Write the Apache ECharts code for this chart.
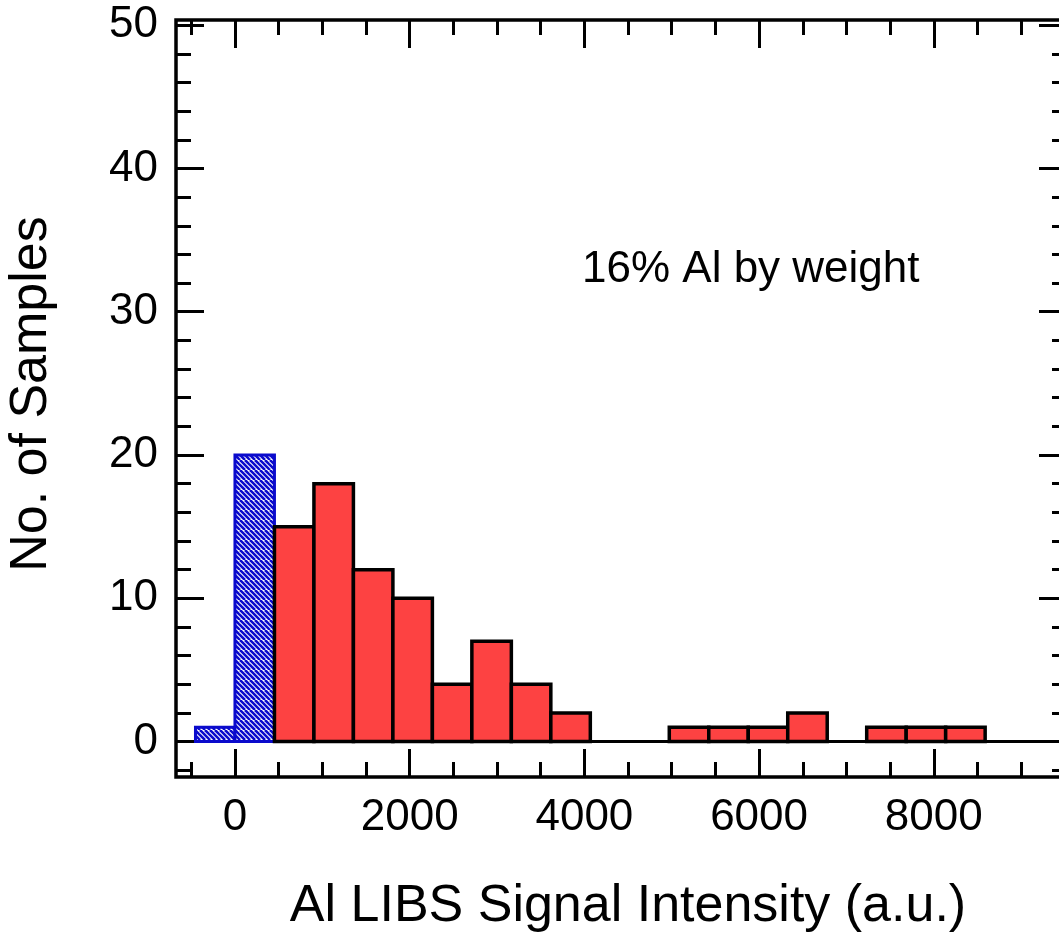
<!DOCTYPE html>
<html><head><meta charset="utf-8">
<script src="https://cdn.jsdelivr.net/npm/echarts@6/dist/echarts.min.js"></script>
<style>html,body{margin:0;padding:0;background:#fff}#c{width:1059px;height:934px}</style>
</head><body><div id="c"></div>
<script>
// ---- data ----
const binEdges = [-452, 0, 452, 904, 1356, 1808, 2260, 2712, 3164, 3616, 4068,
                  4520, 4972, 5424, 5876, 6328, 6780, 7232, 7684, 8136, 8588];
const lowSignalCounts = [1, 20];                       // blue hatched bins
const signalCounts = [15, 18, 12, 10, 4, 7, 4, 2, 0, 0, 1, 1, 1, 2, 0, 1, 1, 1]; // red bins
const xMajorTicks = [0, 2000, 4000, 6000, 8000];
const xMinorTicks = [-500, 0, 500, 1000, 1500, 2000, 2500, 3000, 3500, 4000, 4500,
                     5000, 5500, 6000, 6500, 7000, 7500, 8000, 8500, 9000, 9500];
const yMajorTicks = [0, 10, 20, 30, 40, 50];
const yMinorTicks = [-2, 0, 2, 4, 6, 8, 10, 12, 14, 16, 18, 20, 22, 24, 26, 28, 30,
                     32, 34, 36, 38, 40, 42, 44, 46, 48, 50];
const xRange = [-675, 9525];
const yRange = [-2.47, 50.36];
const xTitle = 'Al LIBS Signal Intensity (a.u.)';
const yTitle = 'No. of Samples';
const note = '16% Al by weight';

// ---- styles ----
const FONT = "'Liberation Sans', Arial, sans-serif";
const RED = '#fd4242';
const BLUE = '#0a0acc';

const hatch = (function () {
  const s = 10, p = 5;
  const cv = document.createElement('canvas');
  cv.width = s; cv.height = s;
  const ctx = cv.getContext('2d');
  ctx.fillStyle = '#ffffff'; ctx.fillRect(0, 0, s, s);
  ctx.strokeStyle = BLUE; ctx.lineWidth = 2.6;
  for (let c = -s; c <= s; c += p) {
    ctx.beginPath(); ctx.moveTo(c, 0); ctx.lineTo(c + s, s); ctx.stroke();
  }
  return { image: cv, repeat: 'repeat' };
})();

const barData = [];
lowSignalCounts.forEach((v, i) => barData.push([binEdges[i], binEdges[i + 1], v, 0]));
signalCounts.forEach((v, i) => {
  const k = i + lowSignalCounts.length;
  barData.push([binEdges[k], binEdges[k + 1], v, 1]);
});

function renderBar(params, api) {
  const x0 = api.value(0), x1 = api.value(1), c = api.value(2), g = api.value(3);
  if (!c) return;
  const p0 = api.coord([x0, c]);
  const p1 = api.coord([x1, 0]);
  return {
    type: 'rect',
    shape: { x: p0[0], y: p0[1], width: p1[0] - p0[0], height: p1[1] - p0[1] },
    style: g === 0 ? { fill: hatch, stroke: BLUE, lineWidth: 3 }
                   : { fill: RED, stroke: '#000', lineWidth: 3.5 }
  };
}

function xAxisDef(pos, ticks, len, labels) {
  return {
    type: 'value', position: pos, gridIndex: 0, min: xRange[0], max: xRange[1],
    axisLine: { show: false, onZero: false }, splitLine: { show: false },
    axisTick: { show: true, inside: true, length: len, customValues: ticks,
                lineStyle: { color: '#000', width: 3 } },
    axisLabel: labels ? { show: true, customValues: xMajorTicks, margin: 19,
                          formatter: v => String(v), color: '#000', fontSize: 44, fontFamily: FONT }
                      : { show: false },
    name: labels ? xTitle : '', nameLocation: 'middle', nameGap: 104,
    nameTextStyle: { fontSize: 52, fontFamily: FONT, color: '#000', padding: [0, 0, 0, 13] }
  };
}
function yAxisDef(pos, ticks, len, labels) {
  return {
    type: 'value', position: pos, gridIndex: 0, min: yRange[0], max: yRange[1],
    axisLine: { show: false, onZero: false }, splitLine: { show: false },
    axisTick: { show: true, inside: true, length: len, customValues: ticks,
                lineStyle: { color: '#000', width: 3 } },
    axisLabel: labels ? { show: true, customValues: yMajorTicks, margin: 18,
                          formatter: v => String(v), color: '#000', fontSize: 44, fontFamily: FONT }
                      : { show: false },
    name: labels ? yTitle : '', nameLocation: 'middle', nameGap: 118, nameRotate: 90,
    nameTextStyle: { fontSize: 52, fontFamily: FONT, color: '#000', padding: [0, 0, 0, 9] }
  };
}

const chart = echarts.init(document.getElementById('c'), null, { renderer: 'canvas' });
chart.setOption({
  animation: false,
  backgroundColor: '#fff',
  grid: { left: 176, top: 20, width: 891, height: 757, show: true,
          outerBoundsMode: 'none', containLabel: false,
          borderColor: '#000', borderWidth: 3.5, backgroundColor: 'transparent' },
  xAxis: [
    xAxisDef('bottom', xMajorTicks, 28, true),
    xAxisDef('bottom', xMinorTicks, 15, false),
    xAxisDef('top', xMajorTicks, 28, false),
    xAxisDef('top', xMinorTicks, 15, false)
  ],
  yAxis: [
    yAxisDef('left', yMajorTicks, 28, true),
    yAxisDef('left', yMinorTicks, 15, false),
    yAxisDef('right', yMajorTicks, 28, false),
    yAxisDef('right', yMinorTicks, 15, false)
  ],
  graphic: [{
    type: 'text', left: 582, top: 248, z: 10,
    style: { text: note, fontSize: 44, fontFamily: FONT, fill: '#000' }
  }],
  series: [
    { type: 'line', xAxisIndex: 0, yAxisIndex: 0, z: 1, silent: true, symbol: 'none',
      data: [[xRange[0], 0], [xRange[1], 0]], lineStyle: { color: '#000', width: 3 } },
    { type: 'custom', xAxisIndex: 0, yAxisIndex: 0, z: 2, renderItem: renderBar,
      encode: { x: [0, 1], y: 2 }, data: barData }
  ]
});
</script></body></html>
